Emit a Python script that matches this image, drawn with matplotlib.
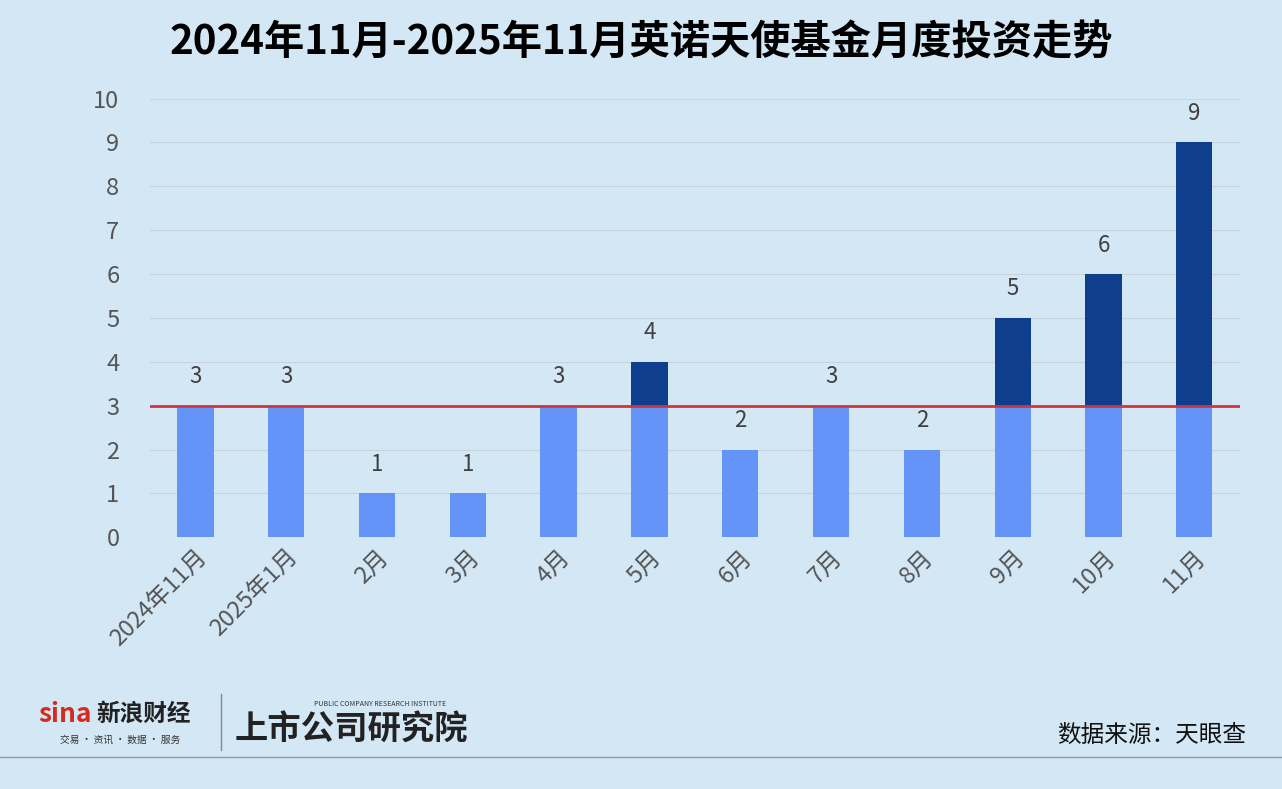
import matplotlib.pyplot as plt
import numpy as np

plt.rcParams["font.family"] = ["Noto Sans CJK SC", "DejaVu Sans"]

months = ["2024年11月", "2025年1月", "2月", "3月", "4月", "5月", "6月", "7月", "8月", "9月", "10月", "11月"]
counts = [3, 3, 1, 1, 3, 4, 2, 3, 2, 5, 6, 9]
baseline = 3

BG = "#d3e7f5"
LIGHT = "#6494f8"
DARK = "#0f3f8c"
RED = "#d2343b"

fig = plt.figure(figsize=(12.82, 7.89), dpi=100)
fig.patch.set_facecolor(BG)
ax = fig.add_axes([0.117, 0.319, 0.850, 0.556])
ax.set_facecolor(BG)

x = np.arange(len(months))
vals = np.array(counts)
low = np.minimum(vals, baseline)
high = vals - low
ax.bar(x, low, width=0.4, color=LIGHT, zorder=2)
ax.bar(x, high, width=0.4, bottom=low, color=DARK, zorder=2)
for xi, v in zip(x, vals):
    ax.text(xi, v + 0.4, str(v), ha="center", va="bottom", fontsize=16, color="#404040")

ax.axhline(baseline, color=RED, lw=2, zorder=3)

ax.set_xlim(-0.5, len(months) - 0.5)
ax.set_ylim(0, 10)
ax.set_yticks(range(0, 11))
ax.tick_params(axis="y", labelsize=17, labelcolor="#555555", length=0, pad=22)
ax.set_xticks(x)
ax.set_xticklabels(months, rotation=45, ha="right", rotation_mode="anchor", fontsize=17, color="#555555")
ax.tick_params(axis="x", length=0, pad=6)
ax.grid(axis="y", color="#c8d4dc", lw=0.8, zorder=0)
for s in ax.spines.values():
    s.set_visible(False)

fig.text(0.5, 0.945, "2024年11月-2025年11月英诺天使基金月度投资走势", ha="center", va="center",
         fontsize=29, fontweight="bold", color="black")

# footer
fig.text(0.03, 0.095, "sina", fontsize=19, fontweight="bold", style="italic", color="#d52b1e", va="center")
fig.text(0.075, 0.095, "新浪财经", fontsize=17, fontweight="bold", color="#222222", va="center")
fig.text(0.047, 0.062, "交易 · 资讯 · 数据 · 服务", fontsize=7, color="#333333", va="center")
fig.add_artist(plt.Line2D([0.172, 0.172], [0.05, 0.12], color="#888888", lw=1))
fig.text(0.183, 0.075, "上市公司研究院", fontsize=24, fontweight="bold", style="italic", color="#222222", va="center")
fig.text(0.245, 0.108, "PUBLIC COMPANY RESEARCH INSTITUTE", fontsize=5, color="#333333", va="center")
fig.text(0.972, 0.068, "数据来源：天眼查", ha="right", va="center", fontsize=17, color="#111111")
fig.add_artist(plt.Line2D([0, 1], [0.041, 0.041], color="#999999", lw=1))

fig.savefig("out.png", dpi=100, facecolor=BG)
